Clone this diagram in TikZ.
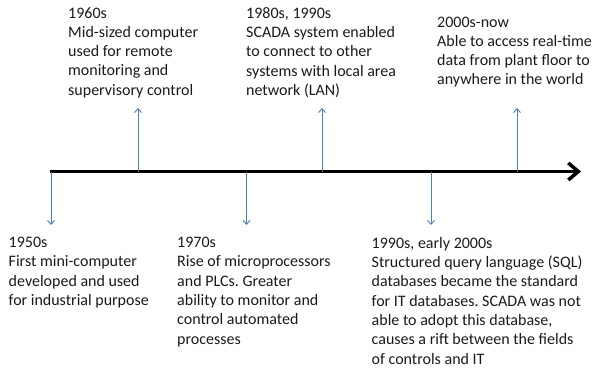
\documentclass[tikz,border=0pt]{standalone}
\usepackage{fontspec}
\setmainfont{Carlito}
\usetikzlibrary{arrows.meta}

\definecolor{tickblue}{HTML}{4A7EBB}
\definecolor{notegray}{HTML}{1A1A1A}

\tikzset{
  note/.style={align=left, anchor=north west, inner sep=0pt, text=notegray,
    font=\fontsize{16}{19.3}\selectfont\frenchspacing,
    execute at begin node={\rule{0pt}{12pt}}},
  tick/.style={draw=tickblue, line width=0.9pt, -{Straight Barb[length=4pt,width=7pt]}},
  axis/.style={line width=3.5pt, -{Straight Barb[length=10pt,width=17pt]}}
}

\begin{document}
\begin{tikzpicture}[x=1pt, y=-1pt]
        \useasboundingbox (0,0) rectangle (598,372);

        % timeline
        \coordinate (start) at (50,171.5);
        \coordinate (stop) at (581,171.5);
        \draw[axis] (start) -- (stop);

        % points on the timeline
        \coordinate (t50) at (51,171.5);
        \coordinate (t60) at (138,171.5);
        \coordinate (t70) at (246.5,171.5);
        \coordinate (t80) at (322,171.5);
        \coordinate (t90) at (431,171.5);
        \coordinate (t00) at (517,171.5);

        % arrow ends
        \coordinate (e50) at (51,225);
        \coordinate (e60) at (138,108);
        \coordinate (e70) at (246.5,225);
        \coordinate (e80) at (322,108);
        \coordinate (e90) at (431,225);
        \coordinate (e00) at (517,108);

        \node[note] (n50) at (8.5,237) {1950s\\First mini-computer\\developed and used\\for industrial purpose};
        \node[note] (n60) at (68,7) {1960s\\Mid-sized computer\\used for remote\\monitoring and\\supervisory control};
        \node[note] (n70) at (177,237) {1970s\\Rise of microprocessors\\and PLCs. Greater\\ability to monitor and\\control automated\\processes};
        \node[note] (n80) at (246,7) {1980s, 1990s\\SCADA system enabled\\to connect to other\\systems with local area\\network (LAN)};
        \node[note] (n90) at (371.5,237) {1990s, early 2000s\\Structured query language (SQL)\\databases became the standard\\for IT databases. SCADA was not\\able to adopt this database,\\causes a rift between the fields\\of controls and IT};
        \node[note] (n00) at (437,16.5) {2000s-now\\Able to access real-time\\data from plant floor to\\anywhere in the world};

        \draw[tick] (t50) -- (e50);
        \draw[tick] (t60) -- (e60);
        \draw[tick] (t70) -- (e70);
        \draw[tick] (t80) -- (e80);
        \draw[tick] (t90) -- (e90);
        \draw[tick] (t00) -- (e00);
      \end{tikzpicture}
\end{document}
